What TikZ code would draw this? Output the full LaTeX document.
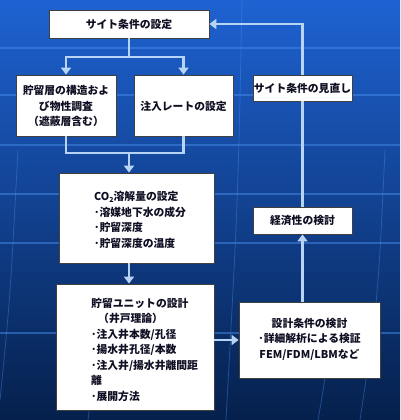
\documentclass[tikz,border=0pt]{standalone}
\usepackage{fontspec}
\setmainfont{Noto Sans CJK JP}
\usetikzlibrary{arrows.meta}
\definecolor{bgtop}{RGB}{30,98,210}
\definecolor{bgmid}{RGB}{12,60,145}
\definecolor{bgbot}{RGB}{5,32,76}
\definecolor{gridc}{RGB}{70,140,235}
\definecolor{conn}{RGB}{184,212,244}
\definecolor{txtc}{RGB}{15,15,35}
\tikzset{
  box/.style={draw=black!75, line width=0.8pt, fill=white, inner sep=0pt},
  txt/.style={font=\fontsize{10.8}{15.5}\selectfont\bfseries, text=txtc, inner sep=0pt},
  link/.style={draw=conn, line width=2.8pt},
  arr/.style={link, -{Triangle[length=7pt,width=10pt]}},
  gridl/.style={draw=gridc, line width=1.1pt, opacity=0.5},
  merid/.style={draw=gridc, line width=0.8pt, opacity=0.4}
}
\begin{document}
\begin{tikzpicture}[x=1pt,y=-1pt]
\useasboundingbox (0,0) rectangle (400,420);
\shade[top color=bgtop, middle color=bgmid, bottom color=bgbot] (0,0) rectangle (400,420);
% faint grid
\foreach \yy in {48,95,145,194,243,333} \draw[gridl] (0,\yy) -- (400,\yy);
\draw[merid] (242,0) .. controls (238,200) .. (226,420);
\draw[merid] (18,150) .. controls (10,300) .. (0,400);
\draw[merid] (385,150) .. controls (378,300) .. (360,420);
\draw[merid] (100,300) .. controls (95,360) .. (88,420);
\draw[merid] (330,330) .. controls (325,380) .. (318,420);

% boxes
\node[box, minimum width=160, minimum height=28] (site) at (129,24) {};
\node[txt] (sitet) at (129,24) {サイト条件の設定};

\node[box, minimum width=100, minimum height=61] (res) at (66,105.5) {};
\node[txt, align=center] (rest) at (66,106) {貯留層の構造およ\\び物性調査\\（遮蔽層含む）};

\node[box, minimum width=99, minimum height=61] (rate) at (183.5,105.5) {};
\node[txt] (ratet) at (183.5,106) {注入レートの設定};

\node[box, minimum width=99, minimum height=26] (review) at (302.5,88) {};
\node[txt] (reviewt) at (302.5,88) {サイト条件の見直し};

\node[box, minimum width=155, minimum height=90] (co2) at (136.5,218) {};
\node[txt, align=left, anchor=west] (co2t) at (94,220) {CO\raisebox{-0.35ex}{\fontsize{7}{7}\selectfont 2}溶解量の設定\\･溶媒地下水の成分\\･貯留深度\\･貯留深度の温度};

\node[box, minimum width=99, minimum height=27] (econ) at (302.5,220.5) {};
\node[txt] (econt) at (302.5,220.5) {経済性の検討};

\node[box, minimum width=158, minimum height=126] (unit) at (135,347) {};
\node[txt, align=left, anchor=west] (unitt) at (91,349.5) {貯留ユニットの設計\\\hspace{7pt}（井戸理論）\\･注入井本数/孔径\\･揚水井孔径/本数\\･注入井/揚水井離間距\\離\\･展開方法};

\node[box, minimum width=141, minimum height=76] (design) at (309.5,340) {};
\node[txt, align=center] (designt) at (309.5,339) {設計条件の検討\\･詳細解析による検証\\FEM/FDM/LBMなど};

% connectors
\coordinate (j1) at (129,57);
\coordinate (j2) at (129,153);
\draw[arr] (site.south) -- (j1) -| (res.north);
\draw[arr] (j1) -| (rate.north);
\draw[link] (res.south) |- (j2);
\draw[link] (rate.south) |- (j2);
\draw[arr] (j2) -- (j2 |- co2.north);
\draw[arr] (co2.south -| j2) -- (unit.north -| j2);
\draw[arr] (unit.east |- design.west) -- (design.west);
\draw[arr] (design.north -| econ.south) -- (econ.south);
\draw[link] (econ.north) -- (review.south);
\draw[arr] (review.north) |- (site.east);
\end{tikzpicture}
\end{document}
